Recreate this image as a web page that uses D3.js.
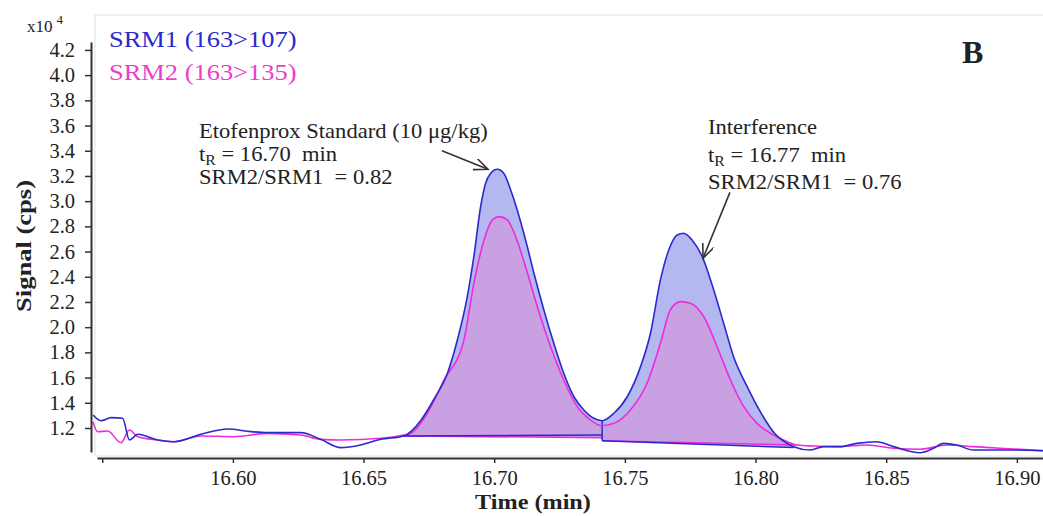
<!DOCTYPE html>
<html lang="en">
<head>
<meta charset="UTF-8">
<title>Etofenprox SRM chromatogram (B)</title>
<script src="https://d3js.org/d3.v7.min.js"></script>
<style>
  body { margin: 0; background: #fff; }
  svg text { font-family: "Liberation Serif", "Times New Roman", serif; fill: #222; white-space: pre; }
</style>
</head>
<body>
<svg id="chart" width="1043" height="516"></svg>
<script>
// retention time (min) / signal (x10^4 cps)
const srm1Time = [16.5465, 16.5495, 16.5534, 16.5578, 16.5604, 16.5636, 16.5712, 16.5776, 16.5878, 16.598,
  16.6069, 16.6133, 16.626, 16.6336, 16.6413, 16.6489, 16.6566, 16.6654, 16.6719, 16.677,
  16.6821, 16.6859, 16.6897, 16.6922, 16.6948, 16.6967, 16.6986, 16.7012, 16.7037, 16.7063,
  16.7088, 16.712, 16.7152, 16.719, 16.7228, 16.7266, 16.7305, 16.7343, 16.7381, 16.7413,
  16.7458, 16.7509, 16.756, 16.7598, 16.7636, 16.7668, 16.77, 16.7725, 16.7757, 16.7796,
  16.784, 16.7878, 16.7916, 16.7968, 16.8018, 16.8076, 16.812, 16.8146, 16.821, 16.826,
  16.8324, 16.8388, 16.8464, 16.8528, 16.863, 16.8681, 16.8719, 16.877, 16.8834, 16.891,
  16.8987, 16.91];
const srm1Signal = [1.303, 1.258, 1.282, 1.277, 1.105, 1.15, 1.105, 1.091, 1.15, 1.192,
  1.171, 1.163, 1.163, 1.11, 1.044, 1.065, 1.11, 1.137, 1.26, 1.43,
  1.634, 1.898, 2.242, 2.56, 2.956, 3.142, 3.22, 3.253, 3.22, 3.089,
  2.93, 2.692, 2.428, 2.137, 1.872, 1.634, 1.448, 1.343, 1.277, 1.258,
  1.317, 1.448, 1.687, 1.952, 2.375, 2.613, 2.732, 2.745, 2.692, 2.56,
  2.295, 2.031, 1.766, 1.528, 1.33, 1.15, 1.078, 1.052, 1.025, 1.052,
  1.052, 1.078, 1.091, 1.052, 1.004, 1.039, 1.078, 1.065, 1.025, 1.025,
  1.025, 1.02];

const srm2Time = [16.5464, 16.5483, 16.5521, 16.5572, 16.5604, 16.5636, 16.5712, 16.5776, 16.5878, 16.6004,
  16.6133, 16.626, 16.6336, 16.6413, 16.6566, 16.6654, 16.668, 16.6744, 16.6808, 16.6884,
  16.6922, 16.6961, 16.6993, 16.7018, 16.705, 16.7082, 16.712, 16.7165, 16.7216, 16.7266,
  16.7318, 16.7369, 16.7413, 16.7458, 16.7521, 16.7585, 16.7636, 16.7674, 16.7713, 16.7751,
  16.7802, 16.7853, 16.7904, 16.7955, 16.8006, 16.8057, 16.8107, 16.8159, 16.8222, 16.8324,
  16.8426, 16.8528, 16.863, 16.8732, 16.8834, 16.8936, 16.91];
const srm2Signal = [1.25, 1.17, 1.176, 1.083, 1.184, 1.131, 1.105, 1.091, 1.137, 1.131,
  1.157, 1.144, 1.11, 1.105, 1.118, 1.144, 1.157, 1.317, 1.581, 1.898,
  2.348, 2.692, 2.851, 2.877, 2.851, 2.718, 2.48, 2.163, 1.845, 1.581,
  1.369, 1.263, 1.218, 1.237, 1.343, 1.555, 1.872, 2.137, 2.203, 2.19,
  2.083, 1.845, 1.581, 1.369, 1.237, 1.158, 1.105, 1.065, 1.057, 1.052,
  1.065, 1.039, 1.031, 1.065, 1.052, 1.039, 1.02];

// integration windows (start/end time, baseline signal at each end)
const peakStart = [16.6654, 16.7413];
const srm1PeakEnd = [16.7413, 16.8146];
const srm2PeakEnd = [16.7413, 16.8159];
const srm1BaseStart = [1.137, 1.099];
const srm1BaseEnd = [1.144, 1.045];
const srm2BaseStart = [1.137, 1.099];
const srm2BaseEnd = [1.123, 1.065];

const xTicks = [16.55, 16.60, 16.65, 16.70, 16.75, 16.80, 16.85, 16.90];
const yTicks = [1.2, 1.4, 1.6, 1.8, 2.0, 2.2, 2.4, 2.6, 2.8, 3.0, 3.2, 3.4, 3.6, 3.8, 4.0, 4.2];

const legendLabels = ["SRM1 (163>107)", "SRM2 (163>135)"];
const noteStd = ["Etofenprox Standard (10 μg/kg)", "16.70", "0.82"];
const noteInt = ["Interference", "16.77", "0.76"];
// arrow tail / tip in data units
const arrowFrom = [[16.6800, 3.40], [16.7902, 3.07]];
const arrowTo = [[16.6976, 3.253], [16.7799, 2.547]];

const blue = "#2a2acc", magenta = "#f02adc";
const blueFill = "#b5b8f0", purpleFill = "#c9a0e2";
const sx = 1.13; // the original figure is a bit wider than tall

const svg = d3.select("#chart");
const x = d3.scaleLinear().domain([16.548, 16.910]).range([97, 1043]);
const y = d3.scaleLinear().domain([1.0095, 4.263]).range([452, 42]);

// faint plot frame
svg.append("rect").attr("x", 95).attr("y", 15).attr("width", 960).attr("height", 441)
  .attr("fill", "none").attr("stroke", "#e2e2e2");

svg.append("clipPath").attr("id", "plot").append("rect")
  .attr("x", 92).attr("y", 15).attr("width", 951).attr("height", 441);

const plot = svg.append("g").attr("clip-path", "url(#plot)");

function peakArea(time, signal, t0, t1, b0, b1) {
  const base = d3.scaleLinear().domain([t0, t1]).range([b0, b1]);
  const pts = time.map((t, i) => [t, signal[i]])
    .filter(p => p[0] >= t0 - 1e-6 && p[0] <= t1 + 1e-6);
  return d3.area()
    .x(p => x(p[0]))
    .y1(p => y(p[1]))
    .y0(p => y(base(p[0])))
    .curve(d3.curveMonotoneX)(pts);
}

// filled peaks: SRM1 first, SRM2 on top
peakStart.forEach((t0, i) => {
  plot.append("path").attr("fill", blueFill)
    .attr("d", peakArea(srm1Time, srm1Signal, t0, srm1PeakEnd[i], srm1BaseStart[i], srm1BaseEnd[i]));
});
peakStart.forEach((t0, i) => {
  plot.append("path").attr("fill", purpleFill)
    .attr("d", peakArea(srm2Time, srm2Signal, t0, srm2PeakEnd[i], srm2BaseStart[i], srm2BaseEnd[i]));
});

// integration baselines
peakStart.forEach((t0, i) => {
  plot.append("line").attr("stroke", magenta).attr("stroke-width", 1.5)
    .attr("x1", x(t0)).attr("y1", y(srm2BaseStart[i]))
    .attr("x2", x(srm2PeakEnd[i])).attr("y2", y(srm2BaseEnd[i]));
  plot.append("line").attr("stroke", blue).attr("stroke-width", 1.5)
    .attr("x1", x(t0)).attr("y1", y(srm1BaseStart[i]))
    .attr("x2", x(srm1PeakEnd[i])).attr("y2", y(srm1BaseEnd[i]));
});
// drop line between the two peaks
const dropIdx = srm1Time.indexOf(peakStart[1]);
plot.append("line").attr("stroke", blue).attr("stroke-width", 1.5)
  .attr("x1", x(peakStart[1])).attr("x2", x(peakStart[1]))
  .attr("y1", y(srm1Signal[dropIdx])).attr("y2", y(srm1BaseStart[1]));

const trace = d3.line().x(d => x(d[0])).y(d => y(d[1])).curve(d3.curveMonotoneX);
plot.append("path").attr("fill", "none").attr("stroke", magenta).attr("stroke-width", 1.6)
  .attr("d", trace(srm2Time.map((t, i) => [t, srm2Signal[i]])));
plot.append("path").attr("fill", "none").attr("stroke", blue).attr("stroke-width", 1.6)
  .attr("d", trace(srm1Time.map((t, i) => [t, srm1Signal[i]])));

// axes
const xAxis = svg.append("g").attr("transform", "translate(0,458)")
  .call(d3.axisBottom(x).tickValues(xTicks).tickSize(5).tickSizeOuter(0).tickPadding(7)
    .tickFormat(d => d < 16.56 ? "" : d.toFixed(2)));
const yAxis = svg.append("g").attr("transform", "translate(91,0)")
  .call(d3.axisLeft(y).tickValues(yTicks).tickSize(6).tickSizeOuter(0).tickPadding(10)
    .tickFormat(d3.format(".1f")));
[xAxis, yAxis].forEach(g => {
  g.select(".domain").attr("stroke", "#333").attr("stroke-width", 2);
  g.selectAll(".tick line").attr("stroke", "#333").attr("stroke-width", 1.5);
  g.selectAll(".tick text").style("font-size", "20.5px").attr("fill", "#333");
});

// axis titles
svg.append("text").attr("x", 533).attr("y", 509).attr("text-anchor", "middle")
  .attr("transform", `translate(533,509) scale(1.1,1) translate(-533,-509)`)
  .style("font-size", "22px").style("font-weight", "bold").text("Time (min)");
svg.append("text").attr("transform", "translate(31,246) rotate(-90)")
  .attr("text-anchor", "middle").attr("textLength", 132).attr("lengthAdjust", "spacingAndGlyphs")
  .style("font-size", "21px").style("font-weight", "bold").text("Signal (cps)");

const mult = svg.append("text").attr("x", 27).attr("y", 32).style("font-size", "17px").attr("fill", "#333");
mult.append("tspan").text("x10");
mult.append("tspan").attr("dx", 4).attr("dy", -8).style("font-size", "13px").text("4");

// legend
[blue, "#ee3ccc"].forEach((c, i) => {
  svg.append("text").attr("transform", `translate(109,${47 + i * 33}) scale(1.15,1)`)
    .style("font-size", "23px").style("fill", c).text(legendLabels[i]);
});

svg.append("text").attr("transform", "translate(962,63)")
  .style("font-size", "32px").style("font-weight", "bold").text("B");

// peak notes
function note(x0, baselines, lines) {
  const g = svg.append("g");
  g.append("text").attr("transform", `translate(${x0},${baselines[0]}) scale(${sx},1)`)
    .style("font-size", "20px").text(lines[0]);
  const t = g.append("text").attr("transform", `translate(${x0},${baselines[1]}) scale(${sx},1)`)
    .style("font-size", "20px");
  t.append("tspan").text("t");
  t.append("tspan").attr("dy", 4).style("font-size", "14px").text("R");
  t.append("tspan").attr("dy", -4).text(" = " + lines[1] + "  min");
  g.append("text").attr("transform", `translate(${x0},${baselines[2]}) scale(${sx},1)`)
    .style("font-size", "20px").text("SRM2/SRM1  = " + lines[2]);
}
note(199, [138, 161, 184], noteStd);
note(708, [134, 162, 189], noteInt);

// arrows
svg.append("defs").append("marker").attr("id", "head")
  .attr("markerUnits", "userSpaceOnUse").attr("markerWidth", 16).attr("markerHeight", 14)
  .attr("refX", 14).attr("refY", 6).attr("orient", "auto")
  .append("path").attr("d", "M0,0 L14,6 L0,12").attr("fill", "none")
  .attr("stroke", "#333").attr("stroke-width", 1.6);
arrowFrom.forEach((a, i) => {
  svg.append("line").attr("stroke", "#333").attr("stroke-width", 1.6)
    .attr("x1", x(a[0])).attr("y1", y(a[1]))
    .attr("x2", x(arrowTo[i][0])).attr("y2", y(arrowTo[i][1]))
    .attr("marker-end", "url(#head)");
});
</script>
</body>
</html>
